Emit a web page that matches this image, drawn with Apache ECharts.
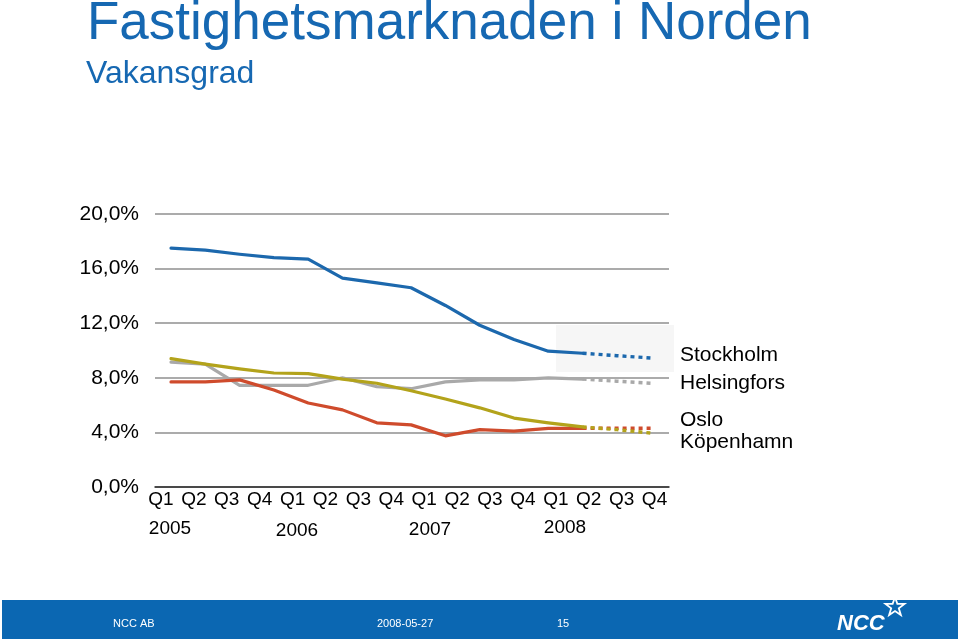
<!DOCTYPE html>
<html><head><meta charset="utf-8">
<script src="https://cdn.jsdelivr.net/npm/echarts@6/dist/echarts.min.js"></script>
<style>html,body{margin:0;padding:0;background:#fff}#c{width:960px;height:639px}</style>
</head><body><div id="c"></div>
<script>
// ---- data ----
const quarters = ['Q1','Q2','Q3','Q4','Q1','Q2','Q3','Q4','Q1','Q2','Q3','Q4','Q1','Q2','Q3','Q4'];
const years = ['2005','2006','2007','2008'];
const seriesNames = ['Stockholm','Helsingfors','Oslo','Köpenhamn'];
// vacancy rate (%), actual values Q1 2005 .. Q1 2008
const stockholm   = [17.5, 17.35, 17.05, 16.8, 16.7, 15.3, 14.95, 14.6, 13.3, 11.85, 10.8, 9.95, 9.8];
const helsingfors = [9.15, 9.0, 7.45, 7.45, 7.45, 8.0, 7.35, 7.2, 7.7, 7.85, 7.85, 8.0, 7.9];
const oslo        = [9.4, 9.0, 8.65, 8.35, 8.3, 7.9, 7.6, 7.05, 6.45, 5.8, 5.05, 4.7, 4.4];
const kopenhamn   = [7.7, 7.7, 7.85, 7.1, 6.15, 5.65, 4.7, 4.55, 3.75, 4.2, 4.1, 4.3, 4.3];
// forecast (dotted) continuing from the last actual value
const stockholmFc   = [9.8, 9.62, 9.45];
const helsingforsFc = [7.9, 7.75, 7.6];
const osloFc        = [4.4, 4.2, 3.95];
const kopenhamnFc   = [4.3, 4.3, 4.3];
const yMin = 0, yMax = 20, yStep = 4;

// ---- build ----
const FONT = "'Liberation Sans', Arial, sans-serif";
const colors = {Stockholm:'#1c68ad', Helsingfors:'#a9a9a9', Oslo:'#b3a31b', 'Köpenhamn':'#cf4b2c'};
const actual = {Stockholm:stockholm, Helsingfors:helsingfors, Oslo:oslo, 'Köpenhamn':kopenhamn};
const fc = {Stockholm:stockholmFc, Helsingfors:helsingforsFc, Oslo:osloFc, 'Köpenhamn':kopenhamnFc};
function fcData(arr, startIdx){ const d = new Array(startIdx).fill(null); return d.concat(arr); }

const drawOrder = ['Helsingfors','Köpenhamn','Oslo','Stockholm'];
const series = [];
drawOrder.forEach((n,k)=>{
  series.push({name:n, type:'line', xAxisIndex:1, yAxisIndex:1, data:actual[n], showSymbol:false, symbol:'none',
    lineStyle:{color:colors[n], width:3.2, cap:'round', join:'round'}, z:3+k, silent:true, animation:false});
  series.push({name:n+' prognos', type:'line', xAxisIndex:1, yAxisIndex:1, data:fcData(fc[n], actual[n].length-1), showSymbol:false, symbol:'none',
    lineStyle:{color:colors[n], width:3.4, type:[4,4], cap:'butt'}, z:3+k, silent:true, animation:false});
});

const yearPos = [170, 297, 430, 565];
const yearY = [529, 531, 530, 528];
const legendY = [355, 383, 420, 442];

function star(cx, cy, R, r){ const pts=[]; for(let i=0;i<10;i++){ const a=-Math.PI/2+i*Math.PI/5; const rr = i%2?r:R; pts.push([cx+rr*Math.cos(a), cy+rr*Math.sin(a)]);} return pts; }

const graphic = [
  {type:'rect', shape:{x:556,y:325,width:118,height:47}, style:{fill:'#f6f6f6'}, z:-10, silent:true},
  {type:'text', x:87, y:24, style:{text:'Fastighetsmarknaden i Norden', font:'53px '+FONT, fill:'#1668b2', verticalAlign:'middle'}},
  {type:'text', x:86, y:74, style:{text:'Vakansgrad', font:'32px '+FONT, fill:'#1668b2', verticalAlign:'middle'}},
  {type:'rect', shape:{x:2,y:600,width:956,height:39}, style:{fill:'#0b67b2'}},
  {type:'text', x:113, y:624, style:{text:'NCC AB', font:'11px '+FONT, fill:'#fff', verticalAlign:'middle'}},
  {type:'text', x:377, y:624, style:{text:'2008-05-27', font:'11px '+FONT, fill:'#fff', verticalAlign:'middle'}},
  {type:'text', x:557, y:624, style:{text:'15', font:'11px '+FONT, fill:'#fff', verticalAlign:'middle'}},
  {type:'text', x:837, y:624, style:{text:'NCC', font:'italic bold 22px '+FONT, fill:'#fff', verticalAlign:'middle'}},
  {type:'polygon', shape:{points:star(895,607,10,4)}, style:{fill:'none', stroke:'#fff', lineWidth:1.8}}
];
years.forEach((t,i)=>graphic.push({type:'text', x:yearPos[i], y:yearY[i], style:{text:t, font:'19px '+FONT, fill:'#000', align:'center', verticalAlign:'middle'}}));
seriesNames.forEach((t,i)=>graphic.push({type:'text', x:680, y:legendY[i], style:{text:t, font:'21px '+FONT, fill:'#000', verticalAlign:'middle'}}));

const fmt = v => v.toFixed(1).replace('.', ',') + '%';

const option = {
  backgroundColor:'#fff',
  animation:false,
  textStyle:{fontFamily:FONT},
  grid:[
    {left:155, right:291, top:214, bottom:152},          // gridlines / y labels
    {left:171, right:274.5, top:214, bottom:152},        // data
    {left:144.5, right:289, top:214, bottom:152}         // quarter labels
  ],
  xAxis:[
    {gridIndex:0, type:'category', data:quarters, boundaryGap:true, axisLine:{show:true, onZero:false, lineStyle:{color:'#2a2a2a', width:1.5}}, axisTick:{show:false}, axisLabel:{show:false}, splitLine:{show:false}},
    {gridIndex:1, type:'category', data:quarters, boundaryGap:false, show:false},
    {gridIndex:2, type:'category', data:quarters, boundaryGap:true, axisLine:{show:false}, axisTick:{show:false}, splitLine:{show:false},
      axisLabel:{show:true, interval:0, color:'#000', fontSize:19, fontFamily:FONT, margin:3}}
  ],
  yAxis:[
    {gridIndex:0, type:'value', min:yMin, max:yMax, interval:yStep, axisLine:{show:false}, axisTick:{show:false},
      axisLabel:{formatter:fmt, color:'#000', fontSize:21, fontFamily:FONT, margin:16},
      splitLine:{show:true, lineStyle:{color:'#ababab', width:2}}},
    {gridIndex:1, type:'value', min:yMin, max:yMax, interval:yStep, show:false, splitLine:{show:false}},
    {gridIndex:2, type:'value', min:yMin, max:yMax, interval:yStep, show:false, splitLine:{show:false}}
  ],
  series:series,
  graphic:graphic
};
const chart = echarts.init(document.getElementById('c'), null, {renderer:'canvas'});
chart.setOption(option);
</script></body></html>
